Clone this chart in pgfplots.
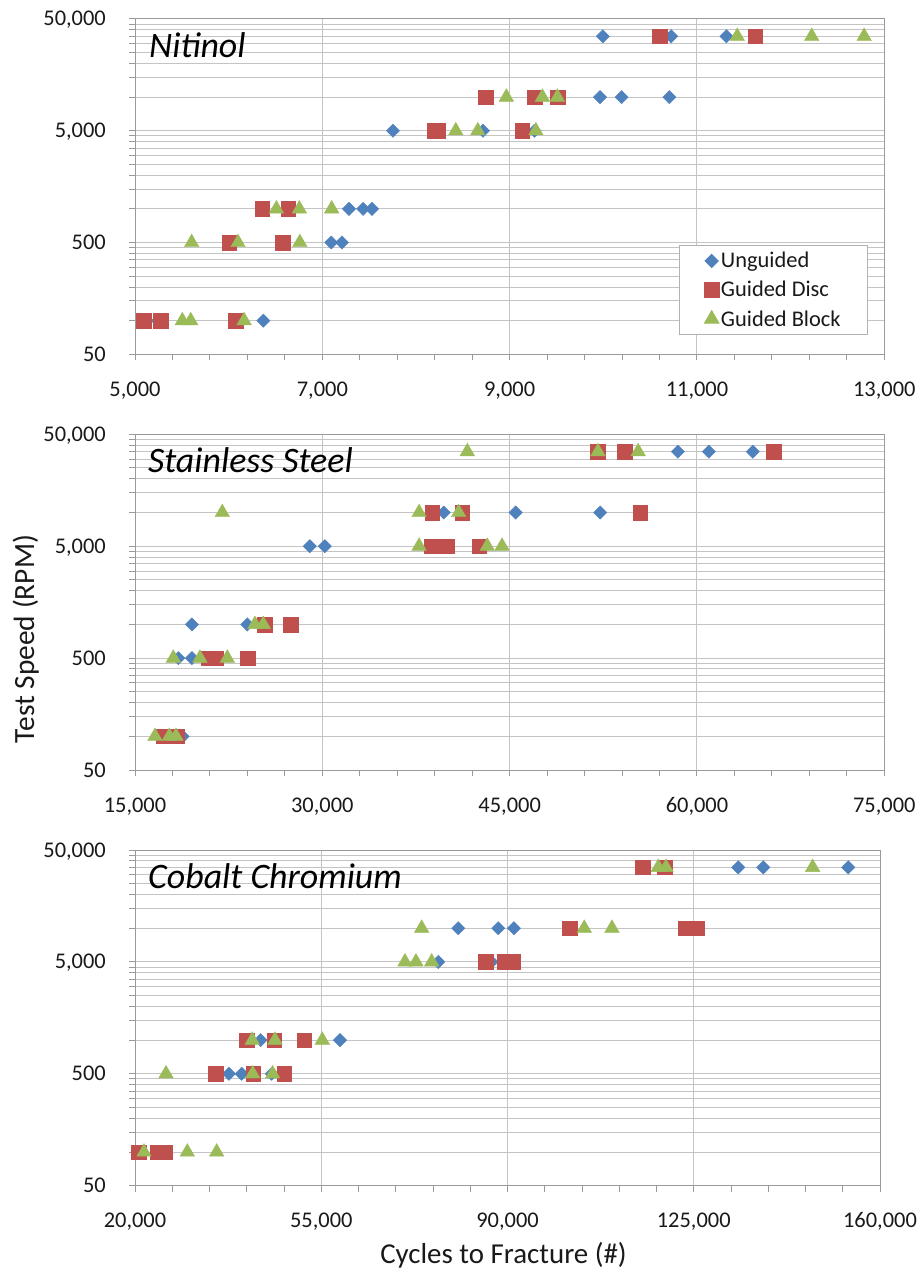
\documentclass[border=0pt]{standalone}
\usepackage{fontspec}
\setmainfont{Carlito}
\usepackage{pgfplots}
\pgfplotsset{compat=1.18}
\definecolor{cblue}{HTML}{4F81BD}
\definecolor{cred}{HTML}{C0504D}
\definecolor{cgreen}{HTML}{9BBB59}
\definecolor{gridc}{HTML}{C4C4C4}
\definecolor{axisc}{HTML}{9A9A9A}
\newcommand{\tickfont}{\fontsize{22.5}{27}\selectfont}
\pgfplotsset{
  every axis/.append style={
    scale only axis,
    ymode=log, log basis y=10,
    ymin=50, ymax=50000,
    ytick={50,500,5000,50000},
    yticklabels={50,500,{5,000},{50,000}},
    minor ytick={100,150,200,250,300,350,400,450,1000,1500,2000,2500,3000,3500,4000,4500,10000,15000,20000,25000,30000,35000,40000,45000},
    xmajorgrids=true, ymajorgrids=true, yminorgrids=true,
    minor grid style={draw=gridc, line width=1bp},
    major grid style={draw=gridc, line width=1bp},
    axis line style={draw=axisc, line width=1bp},
    every tick/.style={draw=axisc, line width=1bp},
    tick align=outside, tick pos=left,
    major tick length=6bp, minor tick length=6bp,
    minor x tick num=4,
    scaled x ticks=false,
    ticklabel style={font=\tickfont, text=black!90, inner sep=0pt},
    xticklabel style={anchor=base, yshift=-36bp},
    yticklabel style={anchor=base east, xshift=-23bp, yshift=-7bp},
  },
}
\begin{document}
\begin{tikzpicture}
\path[use as bounding box] (0bp,0bp) rectangle (919bp,-1270bp);
% ---------------- Nitinol ----------------
\begin{axis}[at={(135bp,-354.3bp)}, anchor=south west,
  width=749.3bp, height=335.3bp,
  xmin=5000, xmax=13000,
  xtick={5000,7000,9000,11000,13000},
  xticklabels={{5,000},{7,000},{9,000},{11,000},{13,000}},
  legend style={at={(0.726,0.326)}, anchor=north west, draw=gray!60, line width=0.8bp,
    fill=white, font=\tickfont, text=black!90, inner xsep=25bp, inner ysep=5bp, row sep=8bp},
  legend cell align=left,
]
\addplot[only marks, mark=square*, mark size=4.7bp, mark options={rotate=45, draw=cblue, fill=cblue}] coordinates {(5130,100) (6370,100) (7095,500) (7210,500) (7285,1000) (7435,1000) (7530,1000)
 (7755,5000) (8715,5000) (9265,5000) (9965,10000) (10195,10000) (10705,10000) (9995,35000) (10725,35000) (11315,35000)};
\addlegendentry{Unguided}
\addplot[only marks, mark=square*, mark size=7.3bp, mark options={draw=cred, fill=cred}] coordinates {(5090,100) (5275,100) (6075,100) (6005,500) (6580,500) (6360,1000) (6635,1000)
 (8195,5000) (8235,5000) (9135,5000) (8745,10000) (9270,10000) (9510,10000) (10605,35000) (11620,35000)};
\addlegendentry{Guided Disc}
\addplot[only marks, mark=triangle*, mark size=8.4bp, mark options={draw=cgreen, fill=cgreen}] coordinates {(5505,100) (5595,100) (6165,100) (5605,500) (6100,500) (6760,500) (6510,1000) (6755,1000) (7100,1000)
 (8425,5000) (8660,5000) (9280,5000) (8965,10000) (9350,10000) (9510,10000) (11430,35000) (12225,35000) (12785,35000)};
\addlegendentry{Guided Block}
\node[anchor=base west, inner sep=0pt, font=\fontsize{36}{41}\selectfont\itshape, xshift=14bp, yshift=-38.5bp] at (rel axis cs:0,1) {Nitinol};
\end{axis}
% ---------------- Stainless Steel ----------------
\begin{axis}[at={(135bp,-770bp)}, anchor=south west,
  width=749.3bp, height=335.7bp,
  xmin=15000, xmax=75000,
  xtick={15000,30000,45000,60000,75000},
  xticklabels={{15,000},{30,000},{45,000},{60,000},{75,000}},
]
\addplot[only marks, mark=square*, mark size=4.7bp, mark options={rotate=45, draw=cblue, fill=cblue}] coordinates {(18810,100) (18470,500) (19560,500) (19560,1000) (23990,1000) (29000,5000) (30200,5000)
 (39720,10000) (45480,10000) (52250,10000) (58470,35000) (60950,35000) (64470,35000)};
\addplot[only marks, mark=square*, mark size=7.3bp, mark options={draw=cred, fill=cred}] coordinates {(17270,100) (18330,100) (20870,500) (21480,500) (24010,500) (25400,1000) (27450,1000)
 (38760,5000) (39990,5000) (42550,5000) (38790,10000) (41210,10000) (55450,10000) (52070,35000) (54230,35000) (66120,35000)};
\addplot[only marks, mark=triangle*, mark size=8.4bp, mark options={draw=cgreen, fill=cgreen}] coordinates {(16600,100) (17750,100) (18280,100) (18070,500) (20200,500) (22390,500) (24600,1000) (25270,1000)
 (37750,5000) (43210,5000) (44390,5000) (21990,10000) (37750,10000) (40920,10000) (41610,35000) (52070,35000) (55290,35000)};
\node[anchor=base west, inner sep=0pt, font=\fontsize{36}{41}\selectfont\itshape, xshift=13bp, yshift=-38.5bp] at (rel axis cs:0,1) {Stainless Steel};
\end{axis}
% ---------------- Cobalt Chromium ----------------
\begin{axis}[at={(135bp,-1185.7bp)}, anchor=south west,
  width=745bp, height=335.7bp,
  xmin=20000, xmax=160000,
  xtick={20000,55000,90000,125000,160000},
  xticklabels={{20,000},{55,000},{90,000},{125,000},{160,000}},
]
\addplot[only marks, mark=square*, mark size=4.7bp, mark options={rotate=45, draw=cblue, fill=cblue}] coordinates {(37660,500) (40050,500) (45690,500) (43620,1000) (58520,1000)
 (76990,5000) (87020,5000) (80750,10000) (88260,10000) (91210,10000) (133360,35000) (138060,35000) (154030,35000)};
\addplot[only marks, mark=square*, mark size=7.3bp, mark options={draw=cred, fill=cred}] coordinates {(20750,100) (24190,100) (25640,100) (35220,500) (42230,500) (48050,500) (40990,1000) (46170,1000) (51760,1000)
 (85950,5000) (89520,5000) (91030,5000) (101740,10000) (123530,10000) (125600,10000) (115400,35000) (119590,35000)};
\addplot[only marks, mark=triangle*, mark size=8.4bp, mark options={draw=cgreen, fill=cgreen}] coordinates {(21690,100) (29830,100) (35350,100) (25830,500) (42120,500) (45870,500) (42040,1000) (46310,1000) (55200,1000)
 (70730,5000) (72800,5000) (75750,5000) (73870,10000) (104430,10000) (109630,10000) (118330,35000) (119780,35000) (147340,35000)};
\node[anchor=base west, inner sep=0pt, font=\fontsize{36}{41}\selectfont\itshape, xshift=13bp, yshift=-38.5bp] at (rel axis cs:0,1) {Cobalt Chromium};
\end{axis}
\node[rotate=90, anchor=base, inner sep=0pt, text=black!90, font=\fontsize{29.5}{35}\selectfont] at (34bp,-639bp) {Test Speed (RPM)};
\node[anchor=base, inner sep=0pt, text=black!90, font=\fontsize{29}{35}\selectfont] at (503.5bp,-1263bp) {Cycles to Fracture (\#)};
\end{tikzpicture}
\end{document}
